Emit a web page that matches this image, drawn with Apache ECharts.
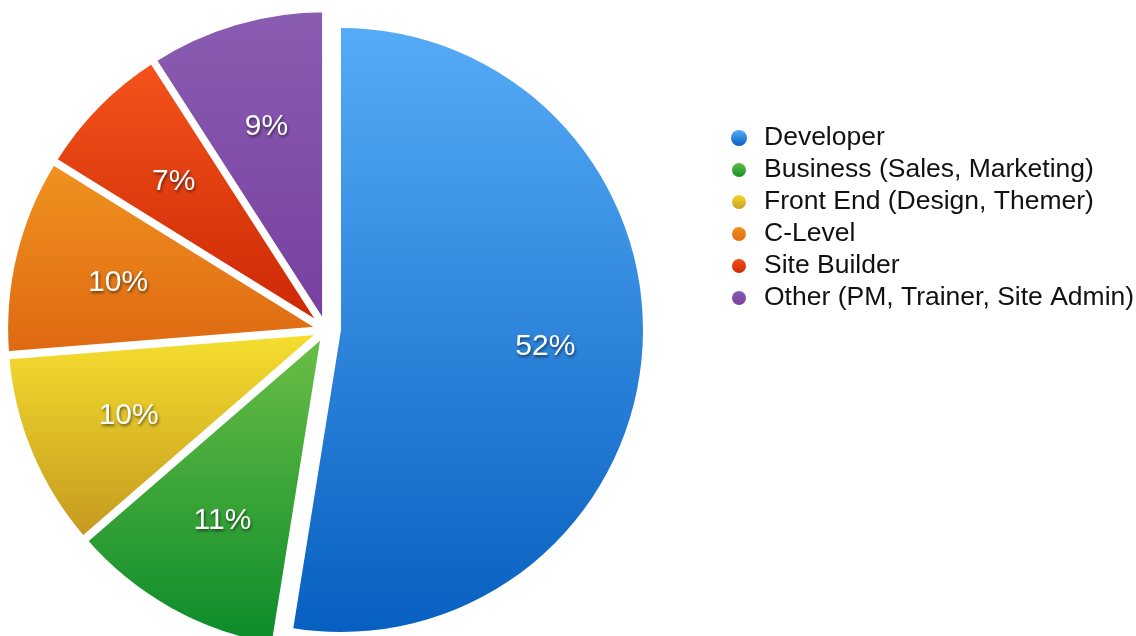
<!DOCTYPE html>
<html>
<head>
<meta charset="utf-8">
<title>Pie</title>
<script src="https://cdn.jsdelivr.net/npm/echarts@6/dist/echarts.min.js"></script>
<style>
html, body { margin: 0; padding: 0; background: #fff; }
#canvas { width: 1136px; height: 636px; }
</style>
</head>
<body>
<div id="canvas"></div>
<script>
var names = ['Developer', 'Business (Sales, Marketing)', 'Front End (Design, Themer)', 'C-Level', 'Site Builder', 'Other (PM, Trainer, Site Admin)'];
var values = [52, 11, 10, 10, 7, 9];
var topColors = ['#56abf7', '#6dc046', '#f7e02f', '#f0931f', '#f5531a', '#8a5db1'];
var bottomColors = ['#0760c0', '#0a8a2a', '#c3981e', '#de6812', '#cb2706', '#773fa0'];

var fontFamily = '"Liberation Sans", Helvetica, Arial, sans-serif';
var mainCenter = [326, 330];
var devCenter = [341, 330];
var labelCenter = [327, 333];

function grad(i) {
    return new echarts.graphic.LinearGradient(0, 0, 0, 1, [
        { offset: 0, color: topColors[i] },
        { offset: 1, color: bottomColors[i] }
    ]);
}

function hidden() {
    return { color: 'transparent', borderWidth: 0 };
}
function painted(i) {
    return { color: grad(i), borderColor: '#fff', borderWidth: 5 };
}
var isDev = function (i) { return i === 0; };
var notDev = function (i) { return i !== 0; };

// painted slices (every slice pulled out a little, like an exploded pie)
function sliceData(show) {
    return names.map(function (n, i) {
        var visible = show(i);
        return {
            name: n,
            value: values[i],
            selected: visible,
            itemStyle: visible ? painted(i) : hidden(),
            select: { itemStyle: visible ? painted(i) : hidden() }
        };
    });
}

// invisible ring that only carries the percentage labels
function labelData(show) {
    return names.map(function (n, i) {
        return {
            name: n,
            value: values[i],
            itemStyle: hidden(),
            label: { show: show(i) }
        };
    });
}

var labelStyle = {
    position: 'inside',
    formatter: '{c}%',
    color: '#fff',
    fontSize: 30,
    fontFamily: fontFamily,
    textShadowColor: 'rgba(0,0,0,0.55)',
    textShadowBlur: 3,
    textShadowOffsetX: 1,
    textShadowOffsetY: 2
};

var myChart = echarts.init(document.getElementById('canvas'));
option = {
    animation: false,
    legend: {
        orient: 'vertical',
        left: 725,
        top: 117,
        icon: 'circle',
        itemWidth: 16,
        itemHeight: 16,
        itemGap: 0,
        textStyle: {
            fontSize: 26.5,
            fontFamily: fontFamily,
            color: '#111',
            lineHeight: 32,
            padding: [0, 0, 0, 12]
        },
        data: names.map(function (n, i) {
            return { name: n, itemStyle: { color: grad(i) } };
        })
    },
    series: [{
        name: 'main',
        type: 'pie',
        center: mainCenter,
        radius: 315.5,
        startAngle: 90,
        silent: true,
        selectedMode: 'multiple',
        selectedOffset: 5,
        label: { show: false },
        labelLine: { show: false },
        data: sliceData(notDev)
    }, {
        name: 'dev',
        type: 'pie',
        center: devCenter,
        radius: 302,
        startAngle: 90,
        silent: true,
        label: { show: false },
        labelLine: { show: false },
        data: names.map(function (n, i) {
            return { name: n, value: values[i], itemStyle: isDev(i) ? { color: grad(i), borderWidth: 0 } : hidden() };
        })
    }, {
        name: 'mainLabels',
        type: 'pie',
        z: 5,
        center: labelCenter,
        radius: [202, 222],
        startAngle: 90,
        silent: true,
        label: labelStyle,
        labelLine: { show: false },
        data: labelData(notDev)
    }, {
        name: 'devLabels',
        type: 'pie',
        z: 5,
        center: devCenter,
        radius: [192, 212],
        startAngle: 90,
        silent: true,
        label: labelStyle,
        labelLine: { show: false },
        data: labelData(isDev)
    }]
};
myChart.setOption(option);
</script>
</body>
</html>
